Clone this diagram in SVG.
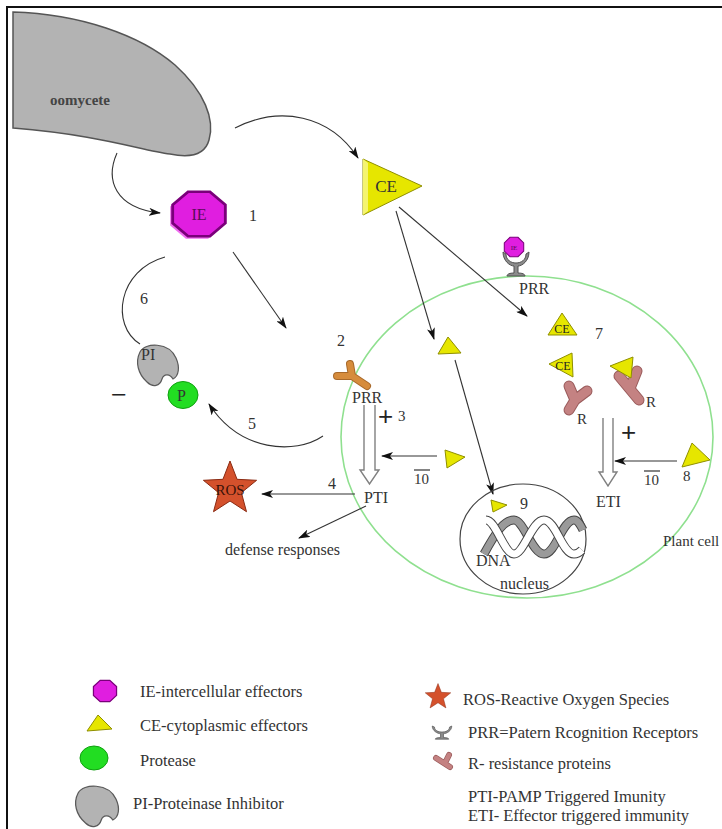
<svg xmlns="http://www.w3.org/2000/svg" width="722" height="829" viewBox="0 0 722 829">
<style>
  text { font-family: "Liberation Serif", "Times New Roman", serif; fill: #333; }
  .lbl { font-size: 16px; }
  .num { font-size: 16px; }
  .sm { font-size: 12px; fill: #222; }
  .big { font-size: 28px; fill: #222; }
  .plus { font-size: 26px; font-family: "Liberation Sans", Arial, sans-serif; fill: #222; }
  .leg { font-size: 16.5px; fill: #333; }
  .conn { fill: none; stroke: #333; stroke-width: 1.1; }
  .arr { marker-end: url(#ah); }
  .tri { fill: #e6e600; stroke: #8f8f00; stroke-width: 1; stroke-linejoin: round; }
  .ie { fill: #e01ee0; stroke: #7a007a; stroke-width: 1; }
  .ieback { fill: #f06cf0; }
  .hollow { fill: #fff; stroke: #808080; stroke-width: 1.4; stroke-linejoin: miter; }
  .rout { fill: none; stroke: #9a5c5c; stroke-width: 11; stroke-linecap: round; stroke-linejoin: round; }
  .rin { fill: none; stroke: #c48282; stroke-width: 9; stroke-linecap: round; stroke-linejoin: round; }
  .pi { fill: #b3b3b3; stroke: #5a5a5a; stroke-width: 1.2; }
  .prot { fill: #22dd22; stroke: #0fa00f; stroke-width: 1; }
  .star { fill: #d4512c; stroke: #8a2a12; stroke-width: 1; }
  .gob { fill: #8c8c8c; stroke: #505050; stroke-width: 1; }
</style>
<defs>
  <marker id="ah" viewBox="0 0 12 8" refX="11" refY="4" markerWidth="12" markerHeight="8" markerUnits="userSpaceOnUse" orient="auto">
    <path d="M0,0 L12,4 L0,8 L3,4 Z" fill="#111"/>
  </marker>
  <!-- regular octagon, radius 10 -->
  <polygon id="oct" points="9.24,3.83 3.83,9.24 -3.83,9.24 -9.24,3.83 -9.24,-3.83 -3.83,-9.24 3.83,-9.24 9.24,-3.83"/>
  <!-- five-pointed star, outer radius 28 -->
  <polygon id="starShape" points="0,-28 7.05,-9.7 26.6,-8.7 11.4,3.7 16.5,22.7 0,12 -16.5,22.7 -11.4,3.7 -26.6,-8.7 -7.05,-9.7"/>
  <!-- receptor goblet centred on x=0, rim at y=0 -->
  <path id="goblet" d="M-13,0 C-13,9 -6,14 -2,14 L-2,21 C-6,21 -9,22 -9,24 L9,24 C9,22 6,21 2,21 L2,14 C6,14 13,9 13,0 L10,2 C10,8 5,11 0,11 C-5,11 -10,8 -10,2 Z"/>
  <!-- proteinase inhibitor bean -->
  <path id="piShape" d="M-17,-12 C-12,-22 12,-22 19,-6 C23,3 22,12 16,15 C13,10 7,9 5,15 C3,22 -4,24 -10,18 C-19,10 -22,-2 -17,-12 Z"/>
</defs>

<!-- frame -->
<rect x="7" y="7" width="740" height="850" fill="none" stroke="#111" stroke-width="2"/>

<!-- oomycete -->
<g id="oomycete">
  <path d="M13,12 C80,14 140,35 175,65 C205,92 215,120 209,140 C205,155 190,158 170,154 C140,150 100,135 13,128 Z" fill="#b3b3b3" stroke="#555" stroke-width="1.5"/>
  <text x="50" y="105" style="font-size:15px;font-weight:bold;fill:#444">oomycete</text>
</g>

<!-- plant cell membrane -->
<g id="plant-cell">
  <ellipse cx="527" cy="437" rx="186" ry="161" fill="none" stroke="#8fe08f" stroke-width="1.6"/>
  <text x="663" y="546" style="font-size:15px">Plant cell</text>
</g>

<!-- connectors -->
<g id="connectors">
  <path class="conn arr" d="M117,153 C105,180 115,208 160,213"/>
  <path class="conn arr" d="M235,128 C280,105 330,115 358,158"/>
  <path class="conn arr" d="M233,252 L286,328"/>
  <path class="conn arr" d="M396,211 L434,339"/>
  <path class="conn arr" d="M399,207 L527,316"/>
  <path class="conn arr" d="M455,360 L493,494"/>
  <path class="conn" d="M165,257 C118,270 110,325 140,344"/>
  <path class="conn arr" d="M323,436 C295,455 240,452 209,404"/>
  <path class="conn arr" d="M355,494 L262,494"/>
  <path class="conn arr" d="M366,506 L299,538"/>
  <path class="conn arr" d="M437,456 L382,456"/>
  <path class="conn arr" d="M677,461 L615,461"/>
  <!-- hollow signalling arrows -->
  <path class="hollow" d="M364,405 V470 H360 L369.5,484 L379,470 H375 V405"/>
  <path class="hollow" d="M603,418 V472 H599 L608,486 L617,472 H613 V418"/>
</g>

<!-- intercellular effector -->
<g id="IE">
  <use href="#oct" class="ieback" transform="translate(197,216) scale(2.9,2.45)"/>
  <use href="#oct" class="ie" transform="translate(199,214) scale(2.85,2.4)" vector-effect="non-scaling-stroke"/>
  <text x="199" y="220" text-anchor="middle" style="font-size:16px;fill:#5a0a5a">IE</text>
  <text class="num" x="249" y="221">1</text>
</g>

<!-- cytoplasmic effector -->
<g id="CE">
  <polygon class="tri" points="363,159 363,215 422,186"/>
  <polygon points="363,159 368,163 368,211 363,215" fill="#f4f470"/>
  <text x="386" y="192" text-anchor="middle" style="font-size:17px;fill:#333">CE</text>
</g>

<!-- receptor binding IE at the membrane -->
<g id="PRR-top">
  <use href="#goblet" class="gob" transform="translate(516,252)"/>
  <use href="#oct" class="ie" transform="translate(514,247) scale(1.05)"/>
  <text x="514" y="250" text-anchor="middle" style="font-size:7px;fill:#5a0a5a">IE</text>
  <text class="lbl" x="519" y="294">PRR</text>
</g>

<!-- PRR on membrane (2) -->
<g id="PRR-2">
  <path d="M350,364 L352,376 M337,376 L352,376 L367,386" fill="none" stroke="#a8692a" stroke-width="8" stroke-linecap="round" stroke-linejoin="round"/>
  <path d="M350,364 L352,376 M337,376 L352,376 L367,386" fill="none" stroke="#d68c3c" stroke-width="6" stroke-linecap="round" stroke-linejoin="round"/>
  <text class="num" x="337" y="346">2</text>
  <text class="lbl" x="352" y="403">PRR</text>
  <text class="plus" x="378" y="425">+</text>
  <text style="font-size:15px" x="398" y="421">3</text>
</g>

<!-- PTI -->
<g id="PTI">
  <text class="lbl" x="364" y="503">PTI</text>
  <text class="num" x="328" y="489">4</text>
</g>

<!-- effector suppressing PTI (10) -->
<g id="CE-10a">
  <polygon class="tri" points="445,450 465,457 447,468"/>
  <text style="font-size:15px" x="414" y="484">10</text>
  <line x1="414" y1="470" x2="430" y2="470" stroke="#333" stroke-width="1.2"/>
</g>

<!-- ROS -->
<g id="ROS">
  <use href="#starShape" class="star" transform="translate(230,489)"/>
  <text x="230" y="495" text-anchor="middle" style="font-size:15px;fill:#3a1208">ROS</text>
</g>

<g id="defense">
  <text class="lbl" x="225" y="555">defense responses</text>
</g>

<!-- proteinase inhibitor and protease -->
<g id="PI">
  <use href="#piShape" class="pi" transform="translate(157,364)"/>
  <text class="lbl" x="141" y="360">PI</text>
  <text class="num" x="140" y="304">6</text>
</g>
<g id="P">
  <ellipse cx="183" cy="395" rx="15" ry="13.5" class="prot"/>
  <text class="lbl" x="177" y="401">P</text>
  <text class="big" x="111" y="404">−</text>
  <text class="num" x="248" y="429">5</text>
</g>

<!-- effector entering cell -->
<g id="CE-in">
  <polygon class="tri" points="438,354 448,337 461,353"/>
</g>

<!-- nucleus -->
<g id="nucleus">
  <ellipse cx="523" cy="539" rx="63" ry="55" fill="none" stroke="#444" stroke-width="1.2"/>
  <path d="M484,554 C496,532 504,520 514,520 C524,520 532,554 544,554 C556,554 562,520 574,520 C578,520 581,526 583,530" fill="none" stroke="#444" stroke-width="9"/>
  <path d="M484,554 C496,532 504,520 514,520 C524,520 532,554 544,554 C556,554 562,520 574,520 C578,520 581,526 583,530" fill="none" stroke="#9a9a9a" stroke-width="7"/>
  <path d="M486,520 C496,520 504,554 514,554 C524,554 532,520 544,520 C556,520 562,554 574,554 C578,554 580,552 582,550" fill="none" stroke="#444" stroke-width="9"/>
  <path d="M486,520 C496,520 504,554 514,554 C524,554 532,520 544,520 C556,520 562,554 574,554 C578,554 580,552 582,550" fill="none" stroke="#fff" stroke-width="7"/>
  <polygon class="tri" points="491,500 507,505 493,512"/>
  <text class="num" x="520" y="509">9</text>
  <text class="lbl" x="476" y="566">DNA</text>
  <text class="lbl" x="500" y="589">nucleus</text>
</g>

<!-- effectors and resistance proteins (7) -->
<g id="CE-7">
  <polygon class="tri" points="562,313 548,335 577,335"/>
  <text class="sm" x="562" y="333" text-anchor="middle">CE</text>
  <polygon class="tri" points="549,364 572,353 573,377"/>
  <text class="sm" x="563" y="370" text-anchor="middle">CE</text>
  <text class="num" x="595" y="339">7</text>
</g>
<g id="R-1">
  <path class="rout" d="M569,386 L575,400 M587,391 L575,400 L569,410"/>
  <path class="rin" d="M569,386 L575,400 M587,391 L575,400 L569,410"/>
  <text style="font-size:15px" x="577" y="424">R</text>
</g>
<g id="R-2">
  <path class="rout" d="M619,376 L639,400 M631,386 L637,371"/>
  <path class="rin" d="M619,376 L639,400 M631,386 L637,371"/>
  <polygon class="tri" points="610,366 633,357 631,378"/>
  <text style="font-size:15px" x="646" y="407">R</text>
</g>

<!-- ETI -->
<g id="ETI">
  <text class="plus" x="621" y="441">+</text>
  <text class="lbl" x="596" y="507">ETI</text>
</g>
<g id="CE-8">
  <polygon class="tri" points="692,443 682,467 710,460"/>
  <text style="font-size:15px" x="683" y="481">8</text>
  <text style="font-size:15px" x="644" y="485">10</text>
  <line x1="644" y1="471" x2="660" y2="471" stroke="#333" stroke-width="1.2"/>
</g>

<!-- legend -->
<g id="legend">
  <use href="#oct" class="ie" transform="translate(105,691) scale(1.25,1.15)"/>
  <text class="leg" x="140" y="697">IE-intercellular effectors</text>
  <polygon class="tri" points="87,731 98,715 112,729"/>
  <text class="leg" x="140" y="731">CE-cytoplasmic effectors</text>
  <ellipse cx="94" cy="758" rx="14" ry="12" class="prot"/>
  <text class="leg" x="140" y="766">Protease</text>
  <use href="#piShape" class="pi" transform="translate(96,805) scale(1.05,1.0)"/>
  <text class="leg" x="133" y="809">PI-Proteinase Inhibitor</text>

  <use href="#starShape" class="star" transform="translate(438,697) scale(0.48)"/>
  <text class="leg" x="463" y="705">ROS-Reactive Oxygen Species</text>
  <use href="#goblet" class="gob" transform="translate(442,726) scale(0.75,0.55)"/>
  <text class="leg" x="468" y="738">PRR=Patern Rcognition Receptors</text>
  <path d="M436,758 L450,767 M445,763 L449,755" fill="none" stroke="#9a5c5c" stroke-width="6" stroke-linecap="round"/>
  <path d="M436,758 L450,767 M445,763 L449,755" fill="none" stroke="#c48282" stroke-width="4.5" stroke-linecap="round"/>
  <text class="leg" x="468" y="769">R- resistance proteins</text>
  <text class="leg" x="468" y="802">PTI-PAMP Triggered Imunity</text>
  <text class="leg" x="468" y="821">ETI- Effector triggered immunity</text>
</g>
</svg>
